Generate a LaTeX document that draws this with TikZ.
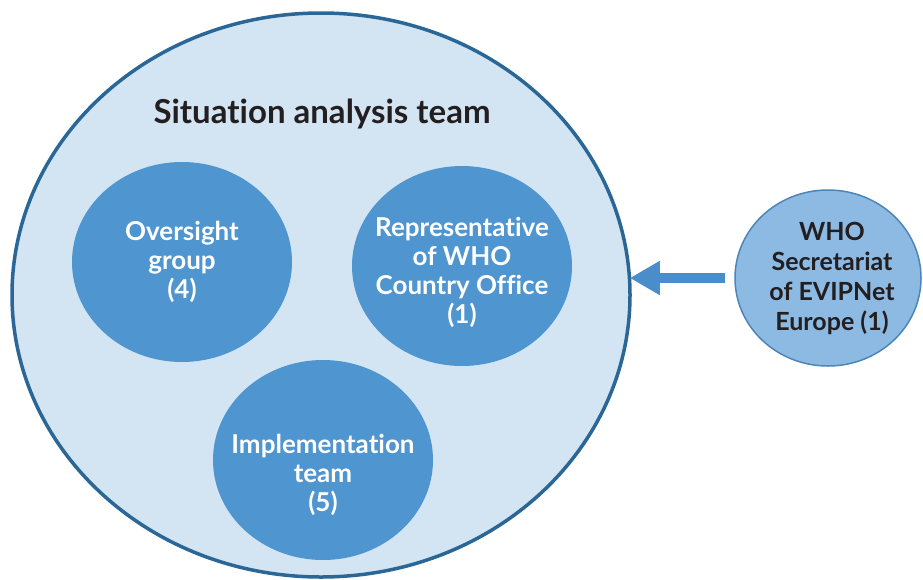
\documentclass[tikz,border=0pt]{standalone}
\usepackage{fontspec}
\setmainfont{Lato}[Ligatures=NoCommon]
\usepackage{xcolor}
\usetikzlibrary{arrows.meta, shapes.geometric}

\definecolor{teamfill}{HTML}{D3E5F3}
\definecolor{teamline}{HTML}{2B6796}
\definecolor{blobfill}{HTML}{4F95D0}
\definecolor{whofill}{HTML}{8DBAE2}
\definecolor{wholine}{HTML}{4C85B8}
\definecolor{arrowblue}{HTML}{4A8DCB}
\definecolor{inkdark}{HTML}{231F20}

\begin{document}
\begin{tikzpicture}[x=1pt, y=-1pt,
    team/.style={ellipse, draw=teamline, line width=3.5pt, fill=teamfill,
        minimum width=618pt, minimum height=564pt, inner sep=0pt},
    blob/.style={ellipse, fill=blobfill, minimum width=220pt,
        minimum height=200pt, inner sep=0pt},
    who/.style={ellipse, draw=wholine, line width=1.5pt, fill=whofill,
        minimum width=186pt, minimum height=176pt, inner sep=0pt},
    blobtext/.style={text=white, align=center,
        font=\bfseries\fontsize{26}{29}\selectfont},
    whotext/.style={text=inkdark, align=center,
        font=\bfseries\fontsize{25}{30}\selectfont},
    titletext/.style={text=inkdark, font=\bfseries\fontsize{33}{38}\selectfont}]
    \clip (0,0) rectangle (923,579);

    % outer team
    \node[team] (team) at (321,295) {};
    \node[titletext, anchor=base] (title) at (322,123) {Situation analysis team};

    % groups inside
    \node[blob] (over) at (182,262) {};
    \node[blob] (rep) at (462,266) {};
    \node[blob] (impl) at (323,460) {};

    \node[blobtext] (overtxt) at (over.center) {Oversight\\group\\(4)};
    \node[blobtext] (reptxt) at ([yshift=-6pt]rep.center) {Representative\\of WHO\\Country Office\\(1)};
    \node[blobtext] (impltxt) at ([yshift=-15pt]impl.center) {Implementation\\team\\(5)};

    % WHO secretariat
    \node[who] (who) at (828,278) {};
    \node[whotext] (whotxt) at ([xshift=4pt]who.center) {WHO\\Secretariat\\of EVIPNet\\Europe (1)};

    \draw[-{Triangle[length=30pt, width=32pt]}, line width=10pt, arrowblue,
        shorten <=9pt, shorten >=-2pt] (who.west) -- (who.west -| team.east);
\end{tikzpicture}
\end{document}
